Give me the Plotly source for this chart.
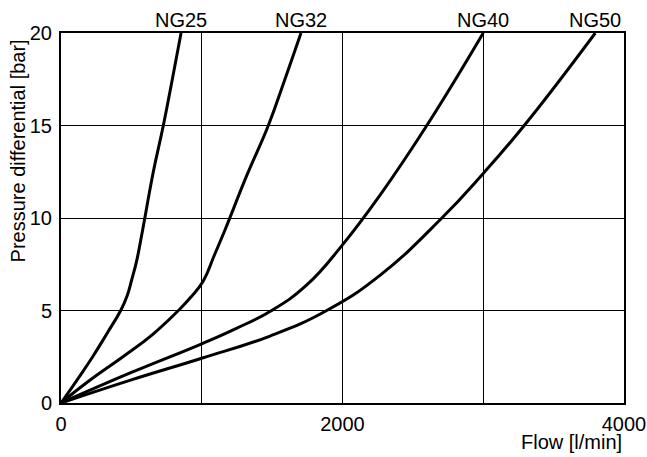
import plotly.graph_objects as go

# Flow [l/min] and pressure differential [bar] per nominal size
ng25_x = [0, 110, 225, 330, 424, 470, 502, 538, 580, 656, 727, 791, 853]
ng25_y = [0, 1.2, 2.5, 3.8, 5, 5.8, 6.65, 7.7, 9.35, 12.5, 15, 17.5, 20]

ng32_x = [0, 200, 440, 650, 834, 920, 1011, 1090, 1165, 1320, 1473, 1591, 1705]
ng32_y = [0, 1.2, 2.5, 3.7, 5, 5.7, 6.6, 8.0, 9.35, 12.3, 15, 17.5, 20]

ng40_x = [0, 500, 1000, 1250, 1497, 1746, 2000, 2267, 2599, 3000]
ng40_y = [0, 1.65, 3.2, 4.05, 5, 6.38, 8.55, 11.24, 15, 20]

ng50_x = [0, 500, 1000, 1485, 1888, 2266, 2706, 3000, 3291, 3796]
ng50_y = [0, 1.25, 2.42, 3.62, 5, 6.9, 10, 12.41, 15, 20]

series = [("NG25", ng25_x, ng25_y), ("NG32", ng32_x, ng32_y),
          ("NG40", ng40_x, ng40_y), ("NG50", ng50_x, ng50_y)]

x_ticks = [0, 2000, 4000]
y_ticks = [0, 5, 10, 15, 20]

FONT = "Liberation Sans, Arial, sans-serif"
FS = 20

fig = go.Figure()
for name, xs, ys in series:
    fig.add_trace(go.Scatter(x=xs, y=ys, mode="lines", name=name,
                             line=dict(color="black", width=3, shape="spline", smoothing=1.3),
                             showlegend=False, hoverinfo="skip"))
    fig.add_annotation(x=xs[-1], y=ys[-1], text=name, showarrow=False,
                       xanchor="center", yanchor="bottom", yshift=0,
                       font=dict(family=FONT, size=FS, color="black"))

fig.add_annotation(xref="paper", yref="paper", x=1, y=0, yshift=-39,
                   text="Flow [l/min]", showarrow=False, xanchor="right", yanchor="middle",
                   font=dict(family=FONT, size=FS, color="black"))
fig.add_annotation(xref="paper", yref="y", x=0, xshift=-43, y=13.6,
                   text="Pressure differential [bar]", showarrow=False, textangle=-90,
                   xanchor="center", yanchor="middle",
                   font=dict(family=FONT, size=FS, color="black"))

fig.update_layout(
    width=647, height=457,
    margin=dict(l=61, r=23, t=33, b=54, autoexpand=False),
    paper_bgcolor="white", plot_bgcolor="white",
    font=dict(family=FONT, size=FS, color="black"),
)
fig.update_xaxes(range=[0, 4000], tickvals=x_ticks, showgrid=True, gridcolor="black", gridwidth=1,
                 minor=dict(dtick=1000, showgrid=True, gridcolor="black", gridwidth=1),
                 showline=True, linecolor="black", linewidth=2, mirror=True,
                 ticks="", zeroline=False, ticklabelstandoff=2)
fig.update_yaxes(range=[0, 20], tickvals=y_ticks, showgrid=True, gridcolor="black", gridwidth=1,
                 showline=True, linecolor="black", linewidth=2, mirror=True,
                 ticks="", zeroline=False, ticklabelstandoff=3)

fig.write_html("out.html", config={"displayModeBar": False},
               post_script="document.body.style.margin='0';document.body.style.overflow='hidden';")
